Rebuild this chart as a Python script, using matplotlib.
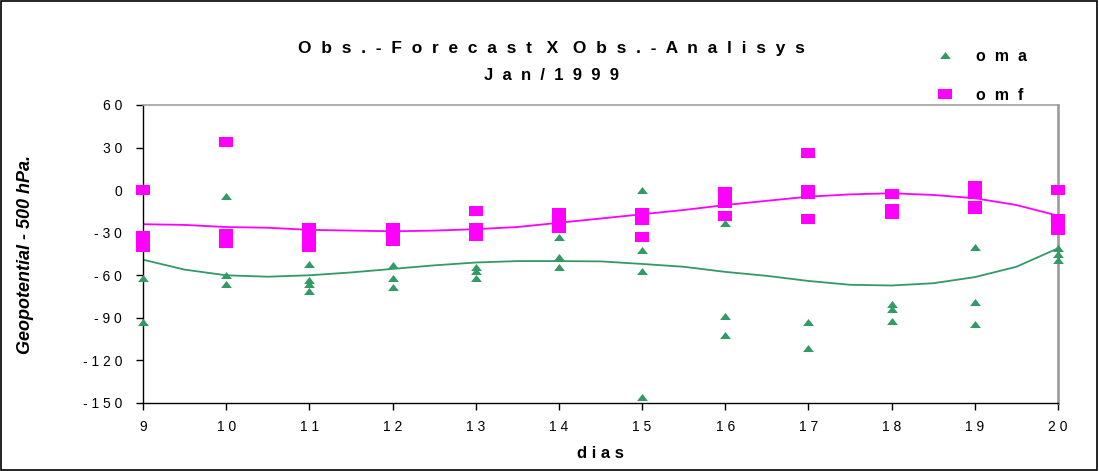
import matplotlib
matplotlib.use("Agg")
import matplotlib.pyplot as plt
from matplotlib.path import Path
from matplotlib.patches import Rectangle

# Observation minus analysis (oma) and observation minus forecast (omf), 500 hPa geopotential
oma_days = [9, 9,
            10, 10, 10,
            11, 11, 11, 11,
            12, 12, 12,
            13, 13, 13,
            14, 14, 14,
            15, 15, 15, 15,
            16, 16, 16,
            17, 17,
            18, 18, 18, 18,
            19, 19, 19,
            20, 20, 20]
oma_vals = [-62, -93,
            -4, -60, -66,
            -52, -63, -66, -71,
            -53, -62, -68,
            -54, -57, -62,
            -33, -47, -54,
            0, -42, -57, -146,
            -23, -89, -102,
            -93, -111,
            -1, -80, -84, -92,
            -40, -79, -94,
            -41, -45, -49]

omf_days = [9, 9, 9, 9,
            10, 10, 10, 10,
            11, 11, 11, 11,
            12, 12, 12,
            13, 13, 13,
            14, 14, 14,
            15, 15, 15,
            16, 16, 16, 16,
            17, 17, 17, 17,
            18, 18, 18,
            19, 19, 19, 19, 19,
            20, 20, 20, 20]
omf_vals = [0, -32, -36, -40,
            34, -31, -34, -37,
            -27, -30, -33, -40,
            -27, -31, -36,
            -15, -27, -32,
            -16, -21, -27,
            -16, -21, -33,
            -1, -5, -9, -18,
            26, 0, -3, -20,
            -3, -13, -17,
            3, 0, -3, -11, -13,
            0, -20, -24, -28]

# Trend curves, sampled every half day
trend_days = [9, 9.5, 10, 10.5, 11, 11.5, 12, 12.5, 13, 13.5, 14, 14.5,
              15, 15.5, 16, 16.5, 17, 17.5, 18, 18.5, 19, 19.5, 20]
oma_trend = [-49, -56, -60, -61, -60, -58, -55.5, -53, -51, -50, -50, -50.2,
             -52, -54, -57.6, -60.4, -64, -66.7, -67.2, -65.6, -61.3, -54, -41]
omf_trend = [-24, -24.5, -26, -26.5, -28, -28.5, -29, -28.5, -27.5, -26, -23, -20,
             -17, -14, -10.5, -7.5, -4.6, -3, -2.2, -3.4, -5.7, -10.5, -18]

x_ticks = list(range(9, 21))
y_ticks = [60, 30, 0, -30, -60, -90, -120, -150]


def spaced(s, gap=" "):
    """Widen the letter spacing of a label."""
    return gap.join(s)


def spaced_words(words, gap="  ", word_gap="   "):
    return word_gap.join(spaced(w, gap) for w in words)


GREEN = "#339966"
MAGENTA = "#FF00FF"

plt.rcParams["font.family"] = ["Liberation Sans", "DejaVu Sans"]

fig = plt.figure(figsize=(10.99, 4.71), dpi=100)
ax = fig.add_axes([143 / 1099, 1 - 403 / 471, (1058 - 143) / 1099, (403 - 105) / 471])

tri = Path([(-1, -0.65), (1, -0.65), (0, 0.65), (-1, -0.65)],
           [Path.MOVETO, Path.LINETO, Path.LINETO, Path.CLOSEPOLY])
rect = Path([(-1, -0.62), (1, -0.62), (1, 0.62), (-1, 0.62), (-1, -0.62)],
            [Path.MOVETO, Path.LINETO, Path.LINETO, Path.LINETO, Path.CLOSEPOLY])

ax.plot(trend_days, oma_trend, color=GREEN, lw=1.3, zorder=2)
ax.plot(trend_days, omf_trend, color=MAGENTA, lw=1.3, zorder=2)
h_oma, = ax.plot(oma_days, oma_vals, ls="none", marker=tri, ms=7.8,
                 color=GREEN, mew=0, clip_on=False, zorder=3,
                 label=spaced("oma", "  "))
h_omf, = ax.plot(omf_days, omf_vals, ls="none", marker=rect, ms=10.6,
                 color=MAGENTA, mew=0, clip_on=False, zorder=4,
                 label=spaced("omf", "  "))

ax.set_xlim(9, 20)
ax.set_ylim(-150, 60)
ax.set_xticks(x_ticks)
ax.set_xticklabels([spaced(str(v)) for v in x_ticks], fontsize=10)
ax.set_yticks(y_ticks)
ax.set_yticklabels([spaced(str(v)) for v in y_ticks], fontsize=10)
ax.tick_params(axis="y", direction="out", length=5, width=1, pad=10)
ax.tick_params(axis="x", direction="out", length=5, width=1, pad=7)

for side in ("top", "right"):
    ax.spines[side].set_color("#a0a0a0")
ax.spines["right"].set_linewidth(2)
ax.spines["top"].set_linewidth(1.2)
for side in ("left", "bottom"):
    ax.spines[side].set_color("black")
    ax.spines[side].set_linewidth(1)

ax.set_xlabel(spaced("dias"), fontsize=12, fontweight="bold", labelpad=9)
ax.set_ylabel("Geopotential - 500 hPa.", fontsize=13, fontweight="bold",
              style="italic", labelpad=35)

fig.text(551 / 1099, 1 - 49 / 471,
         spaced_words(["Obs.-Forecast", "X", "Obs.-Analisys"]),
         ha="center", va="center", fontsize=12.5, fontweight="bold")
fig.text(552 / 1099, 1 - 76 / 471, spaced("Jan/1999", "  "),
         ha="center", va="center", fontsize=12, fontweight="bold")

ax.legend(handles=[h_oma, h_omf], loc="upper left",
          bbox_to_anchor=(928 / 1099, 1 - 44 / 471),
          bbox_transform=fig.transFigure, frameon=False,
          prop={"weight": "bold", "size": 11.5}, numpoints=1,
          handlelength=1.5, handletextpad=1.2, labelspacing=1.5,
          borderpad=0.3, borderaxespad=0)

# outer frame around the whole figure
fig.add_artist(Rectangle((1 / 1099, 1 / 471), 1096 / 1099, 469 / 471,
                         transform=fig.transFigure, fill=False,
                         edgecolor="black", lw=1.2))

fig.savefig("out.png", dpi=100)
